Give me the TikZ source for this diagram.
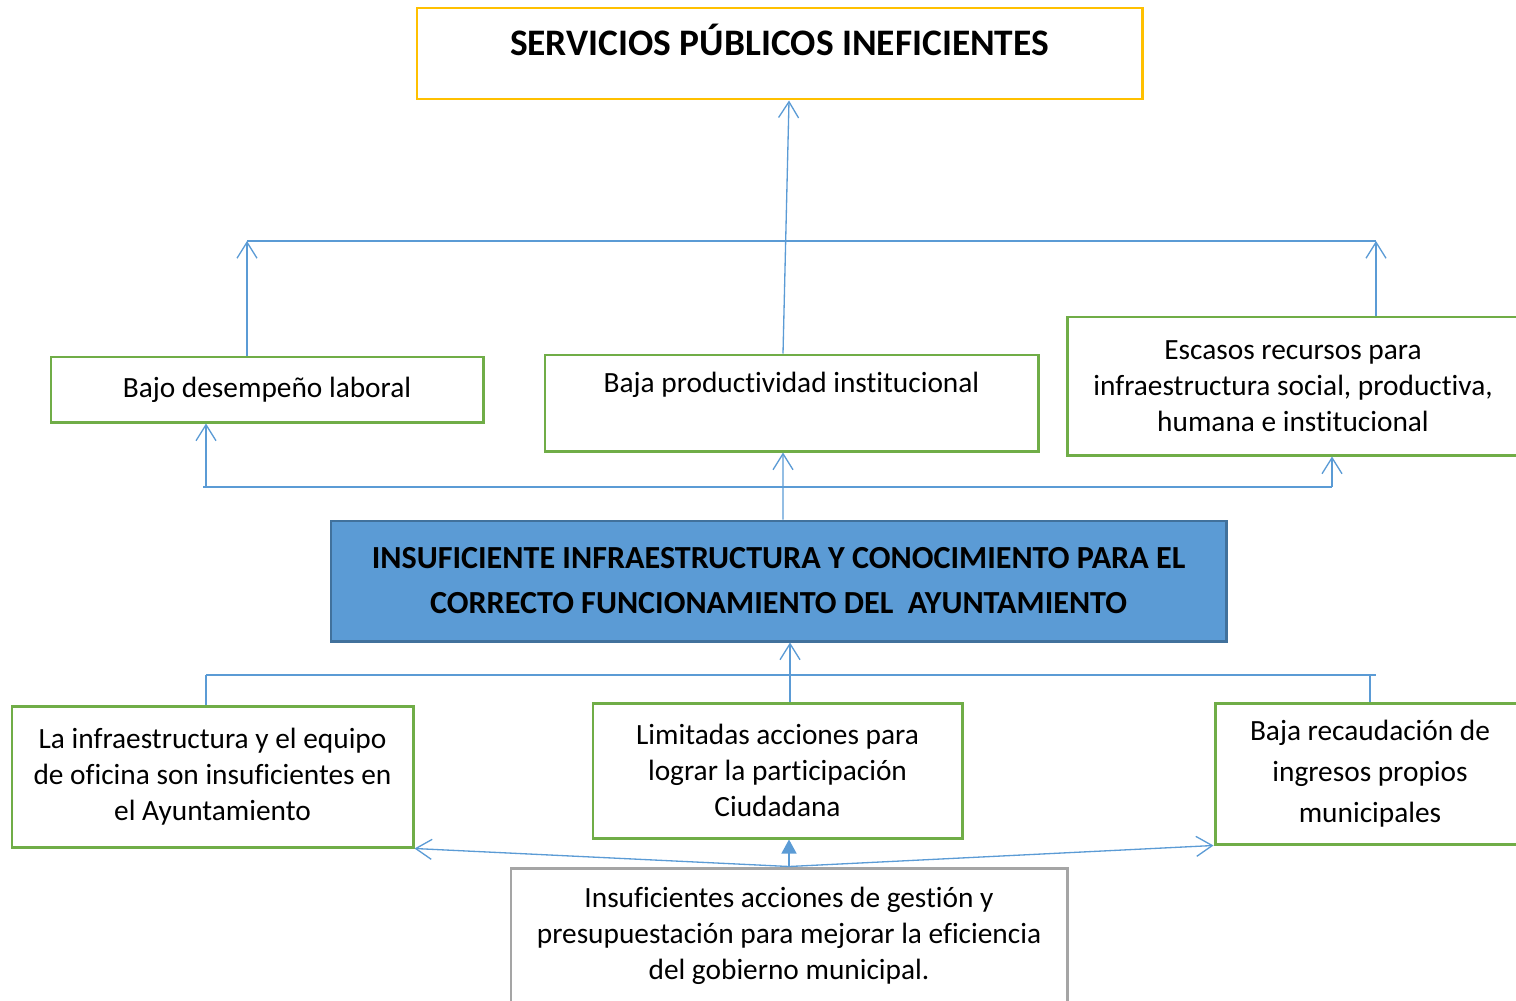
\documentclass[tikz,border=0pt]{standalone}
\usepackage{fontspec}
\setmainfont{Carlito}[Ligatures=NoCommon]
\usetikzlibrary{positioning, calc, arrows.meta}
\definecolor{naranja}{HTML}{FFC000}
\definecolor{verde}{HTML}{70AD47}
\definecolor{azul}{HTML}{5B9BD5}
\definecolor{azulosc}{HTML}{41719C}
\definecolor{gris}{HTML}{A5A5A5}

\begin{document}
\begin{tikzpicture}[x=0.2mm, y=-0.2mm, >={Straight Barb[length=3.2mm,width=4mm]},
  caja/.style={draw=verde, line width=1.7pt, align=center, inner sep=0pt,
    font=\fontsize{16.7}{20.4}\selectfont},
  linea/.style={draw=azul, line width=0.75pt}]
\useasboundingbox (0,0) rectangle (1516,1000);

% efecto principal
\node[caja, draw=naranja, minimum width=145mm, text height=9.4mm, text depth=8.8mm,
  font=\bfseries\fontsize{21.3}{25}\selectfont] (top) at (779.5,53.5) {SERVICIOS PÚBLICOS INEFICIENTES};

% efectos
\node[caja, minimum width=86.4mm, minimum height=13mm] (bajo) at (267,389.5) {Bajo desempeño laboral};
\node[caja, minimum width=98.6mm, text height=7.4mm, text depth=11.8mm] (prod) at (791.5,403) {Baja productividad institucional};
\node[caja, minimum width=90.4mm, minimum height=27.6mm] (escasos) at (1293,386)
  {Escasos recursos para\\ infraestructura social, productiva,\\ humana e institucional};

% problema central
\node[caja, draw=azulosc, fill=azul, minimum width=179mm, minimum height=24mm,
  font=\bfseries\fontsize{18.3}{25.6}\selectfont] (centro) at (778.5,581)
  {INSUFICIENTE INFRAESTRUCTURA Y CONOCIMIENTO PARA EL\\ CORRECTO FUNCIONAMIENTO DEL \ AYUNTAMIENTO};

% causas
\node[caja, minimum width=80.2mm, minimum height=28.2mm] (infra) at (212.5,776.5)
  {La infraestructura y el equipo\\ de oficina son insuficientes en\\ el Ayuntamiento};
\node[caja, minimum width=73.8mm, minimum height=27mm] (limit) at (777.5,770.5)
  {Limitadas acciones para\\ lograr la participación\\ Ciudadana};
\node[caja, minimum width=62mm, minimum height=28.2mm,
  font=\fontsize{16.7}{23.3}\selectfont] (recaud) at (1370,773.5)
  {Baja recaudación de\\ ingresos propios\\ municipales};
\node[caja, draw=gris, minimum width=111.2mm, minimum height=27.2mm] (gestion) at (789,936)
  {Insuficientes acciones de gestión y\\ presupuestación para mejorar la eficiencia\\ del gobierno municipal.};

\coordinate (a1) at (247,241);
\coordinate (a2) at (1376,241);
\coordinate (b1) at (203,487);
\coordinate (b0) at (206,487);
\coordinate (b2) at (1332,487);
\coordinate (c1) at (206,675);
\coordinate (c3) at (1370,675);
\coordinate (c2) at (1376,675);

% efectos hacia arriba
\draw[linea] (a1) -- (a2);
\draw[linea,->] (bajo.north -| a1) -- (a1);
\draw[linea,->] (escasos.north -| a2) -- (a2);
\draw[linea,->] ($(prod.north)+(-8.5,0)$) -- ($(top.south)+(9.5,0)$);

% problema central hacia efectos
\draw[linea] (b1) -- (b2);
\draw[linea,->] (b0) -- (b0 |- bajo.south);
\draw[linea,->] (b2) -- (b2 |- escasos.south);
\draw[linea,->] ($(centro.north)+(4.5,0)$) -- ($(prod.south)+(-8.5,0)$);

% causas hacia problema central
\draw[linea] (c1) -- (c2);
\draw[linea] (c1) -- (c1 |- infra.north);
\draw[linea] (c3) -- (c3 |- recaud.north);
\draw[linea,->] ($(limit.north)+(12.5,0)$) -- ($(centro.south)+(11.5,0)$);

% causa de fondo
\draw[linea,->] (gestion.north) -- (infra.south east);
\draw[linea,->] (gestion.north) -- (recaud.south west);
\draw[linea,-{Triangle[length=2.8mm,width=3mm]}] (gestion.north) -- (gestion.north |- limit.south);

\end{tikzpicture}
\end{document}
